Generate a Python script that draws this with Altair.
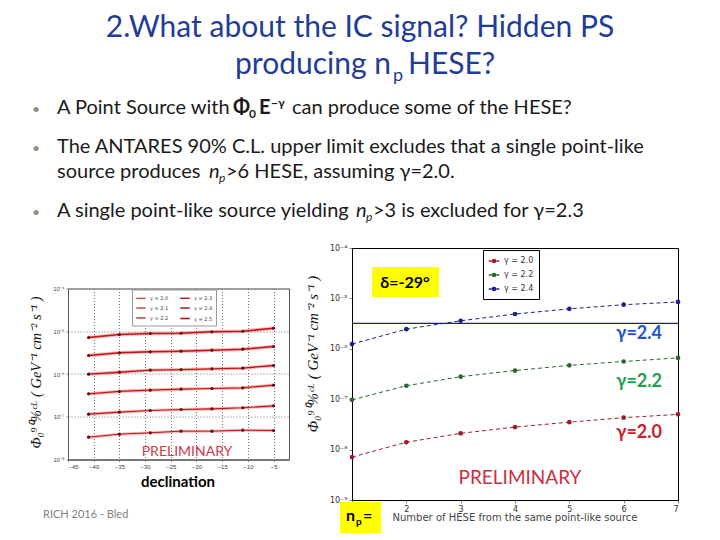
import math
import altair as alt
import pandas as pd

# ---------------- data ----------------
# right panel: 90% CL flux upper limit vs number of HESE (delta = -29 deg)
np_counts = [1, 2, 3, 4, 5, 6, 7]
ul_gamma20 = [7.1e-9, 1.4e-8, 2.1e-8, 2.8e-8, 3.5e-8, 4.3e-8, 5.0e-8]
ul_gamma22 = [9.7e-8, 1.85e-7, 2.8e-7, 3.7e-7, 4.7e-7, 5.6e-7, 6.6e-7]
ul_gamma24 = [1.24e-6, 2.45e-6, 3.6e-6, 4.9e-6, 6.2e-6, 7.5e-6, 8.5e-6]
right_gammas = ["γ = 2.0", "γ = 2.2", "γ = 2.4"]
antares_limit = 3.2e-6
right_yticks = [1e-9, 1e-8, 1e-7, 1e-6, 1e-5, 1e-4]
right_xticks = [1, 2, 3, 4, 5, 6, 7]

# left panel: 90% CL flux upper limit vs declination
declinations = [-41, -35, -29, -23, -17, -11, -5]
decl_g20 = [3.33e-8, 3.92e-8, 4.21e-8, 4.6e-8, 4.6e-8, 4.85e-8, 4.77e-8]
decl_g21 = [1.15e-7, 1.28e-7, 1.40e-7, 1.48e-7, 1.53e-7, 1.62e-7, 1.80e-7]
decl_g22 = [3.44e-7, 3.90e-7, 4.19e-7, 4.42e-7, 4.58e-7, 4.75e-7, 5.48e-7]
decl_g23 = [9.9e-7, 1.10e-6, 1.23e-6, 1.27e-6, 1.32e-6, 1.37e-6, 1.58e-6]
decl_g24 = [2.71e-6, 3.13e-6, 3.30e-6, 3.42e-6, 3.61e-6, 3.81e-6, 4.40e-6]
decl_g25 = [7.15e-6, 8.4e-6, 8.85e-6, 9.0e-6, 9.7e-6, 1.0e-5, 1.18e-5]
left_gammas = ["γ = 2.0", "γ = 2.1", "γ = 2.2", "γ = 2.3", "γ = 2.4", "γ = 2.5"]
left_yticks = [1e-8, 1e-7, 1e-6, 1e-5, 1e-4]
left_xticks = [-45, -40, -35, -30, -25, -20, -15, -10, -5]

# slide texts
title_line1 = "2.What about the IC  signal? Hidden PS"
footer = "RICH 2016 - Bled"
ytitle = "Φ₀⁹⁰%ᶜᴸ  ( GeV⁻¹ cm⁻² s⁻¹ )"

# ---------------- styles ----------------
BLUE_T = "#1F3C96"
TXT = "#1a1a1a"
SANS = "Lato"
right_colors = ["#9e1c2e", "#2e662e", "#1e1e8c"]
left_widths = [1.0, 1.6, 2.2, 3.0, 3.8, 4.6]

SUP = {"-": "⁻", "0": "⁰", "1": "¹", "2": "²", "3": "³", "4": "⁴",
       "5": "⁵", "6": "⁶", "7": "⁷", "8": "⁸", "9": "⁹"}


def pow_label_expr(ticks):
    expr = "''"
    for t in ticks:
        e = int(round(math.log10(t)))
        s = "10" + "".join(SUP[c] for c in str(e))
        expr = f"(abs(log(datum.value)/LN10 - ({e})) < 0.01) ? '{s}' : ({expr})"
    return expr


def txt(s, x, y, size, color=TXT, align="left", weight="normal", style="normal",
        font=SANS, angle=0, baseline="alphabetic"):
    return alt.Chart(pd.DataFrame({"t": [s]})).mark_text(
        align=align, baseline=baseline, fontSize=size, color=color,
        fontWeight=weight, fontStyle=style, font=font, angle=angle
    ).encode(x=alt.value(x), y=alt.value(y), text="t:N")


def box(x1, x2, y1, y2, color="#FFFF00"):
    return alt.Chart(pd.DataFrame({"a": [0]})).mark_rect(color=color).encode(
        x=alt.value(x1), x2=alt.value(x2), y=alt.value(y1), y2=alt.value(y2))


def spacer(w, h):
    return alt.Chart(pd.DataFrame({"t": [""]})).mark_text().encode(
        x=alt.value(0), y=alt.value(0), text="t:N").properties(width=w, height=h)


# ---------------- top: title + bullets ----------------
BS = 20
top_layers = [
    txt(title_line1, 352, 29, 30, BLUE_T, align="center"),
    txt("producing n", 383, 66, 30, BLUE_T, align="right"),
    txt("p", 385, 73, 18, BLUE_T),
    txt("HESE?", 400, 66, 30, BLUE_T),
    # bullet 1
    txt("•", 28, 106, 14, "#8c8c8c", align="center"),
    txt("A Point Source with", 49, 106, BS),
    txt("Φ", 225, 106, 20, TXT, weight="bold"),
    txt("0", 241, 110, 12, TXT, weight="bold"),
    txt("E", 251, 106, BS, TXT, weight="bold"),
    txt("−γ", 263, 99, 12, TXT, weight="bold"),
    txt("can produce some of the HESE?", 284, 106, BS),
    # bullet 2
    txt("•", 28, 145, 14, "#8c8c8c", align="center"),
    txt("The ANTARES 90% C.L. upper limit excludes that a single point-like", 49, 145, BS),
    txt("source produces", 49, 170, BS),
    txt("n", 201, 170, BS, style="italic"),
    txt("p", 211, 174, 12, style="italic"),
    txt(">6 HESE, assuming γ=2.0.", 218, 170, BS),
    # bullet 3
    txt("•", 28, 209, 14, "#8c8c8c", align="center"),
    txt("A single point-like source yielding", 49, 209, BS),
    txt("n", 348, 209, BS, style="italic"),
    txt("p", 358, 213, 12, style="italic"),
    txt(">3 is excluded for γ=2.3", 365, 209, BS),
    # footer
    txt(footer, 35, 507, 11, "#7f7f7f", baseline="middle"),
]
top = alt.layer(*top_layers).properties(width=704, height=240)

# ---------------- left chart ----------------
left_series = [decl_g20, decl_g21, decl_g22, decl_g23, decl_g24, decl_g25]
left_df = pd.DataFrame({
    "decl": declinations * len(left_series),
    "flux": [v for s in left_series for v in s],
    "gamma": [g for g in left_gammas for _ in declinations],
})
lx = alt.X("decl:Q", scale=alt.Scale(domain=[-45, -2], nice=False),
           axis=alt.Axis(values=left_xticks, title=None, labelFontSize=6, tickSize=2,
                         labelPadding=2, labelColor="#444",
                         labelExpr="replace(datum.label, '-', '−')",
                         grid=True, gridDash=[1, 2], gridColor="#666", gridOpacity=0.9,
                         domainColor="#555"))
ly = alt.Y("flux:Q", scale=alt.Scale(type="log", domain=[1e-8, 1e-4], nice=False),
           axis=alt.Axis(values=left_yticks, title=None, labelFontSize=6, tickSize=2,
                         labelPadding=2, labelColor="#444",
                         labelExpr=pow_label_expr(left_yticks),
                         grid=True, gridDash=[1, 2], gridColor="#666", gridOpacity=0.9,
                         domainColor="#555"))
left_glow = alt.Chart(left_df).mark_line(color="#e83030", opacity=0.35).encode(
    x=lx, y=ly,
    strokeWidth=alt.StrokeWidth("gamma:O", scale=alt.Scale(domain=left_gammas,
                                range=[w + 2 for w in left_widths]), legend=None))
left_lines = alt.Chart(left_df).mark_line(color="#c41616").encode(
    x=lx, y=ly,
    strokeWidth=alt.StrokeWidth(
        "gamma:O", scale=alt.Scale(domain=left_gammas, range=left_widths),
        legend=alt.Legend(orient="none", legendX=64, legendY=1, columns=2, title=None,
                          labelFontSize=5, labelFont="DejaVu Sans", labelColor="#444",
                          symbolType="stroke", symbolStrokeColor="#b01414", symbolSize=90,
                          strokeColor="#999", fillColor="white", padding=3,
                          rowPadding=1, columnPadding=8, labelOffset=3)))
left_pts = alt.Chart(left_df).mark_point(filled=True, size=10, color="#5a1010",
                                         opacity=1).encode(x=lx, y=ly)
left_chart = alt.layer(
    left_glow, left_lines, left_pts,
    txt("PRELIMINARY", 119, 163, 14, "#d03a4a", align="center", baseline="middle"),
    txt("declination", 110, 193, 15, "#000000", align="center", weight="bold",
        baseline="middle"),
    txt(ytitle, -31, 84, 14.5, "#111", align="center", baseline="middle",
        font="Liberation Serif", style="italic", angle=270),
).resolve_scale(strokeWidth="independent").properties(
    width=221, height=171, view=alt.ViewBackground(stroke="#555", strokeWidth=1))

# ---------------- right chart ----------------
right_series = [ul_gamma20, ul_gamma22, ul_gamma24]
right_df = pd.DataFrame({
    "np": np_counts * len(right_series),
    "flux": [v for s in right_series for v in s],
    "gamma": [g for g in right_gammas for _ in np_counts],
})
rx = alt.X("np:Q", scale=alt.Scale(domain=[1, 7], nice=False),
           axis=alt.Axis(values=right_xticks, title=None, labelFontSize=8, tickSize=3,
                         labelPadding=2, labelColor="#333", grid=False, domainColor="#000",
                         labelFont="DejaVu Sans",
                         labelExpr="datum.value == 1 ? '' : datum.label"))
ry = alt.Y("flux:Q", scale=alt.Scale(type="log", domain=[1e-9, 1e-4], nice=False),
           axis=alt.Axis(values=right_yticks, title=None, labelFontSize=8, tickSize=3,
                         labelPadding=2, labelColor="#333", grid=False, domainColor="#000",
                         labelFont="DejaVu Sans", labelExpr=pow_label_expr(right_yticks)))
rcolor = alt.Color("gamma:N", scale=alt.Scale(domain=right_gammas, range=right_colors),
                   legend=alt.Legend(orient="none", legendX=131, legendY=2, title=None,
                                     labelFontSize=8, labelFont="DejaVu Sans",
                                     labelColor="#333",
                                     symbolType="M-1,0H-0.45M0.45,0H1M-0.3,0a0.3,0.3 0 1,0 0.6,0a0.3,0.3 0 1,0 -0.6,0",
                                     symbolSize=110, symbolStrokeWidth=1.5,
                                     strokeColor="#000", fillColor="white", padding=5,
                                     rowPadding=3))
r_lines = alt.Chart(right_df).mark_line(strokeDash=[4, 3], strokeWidth=1).encode(
    x=rx, y=ry, color=rcolor)
r_pts = alt.Chart(right_df).mark_point(filled=True, size=22, opacity=1).encode(
    x=rx, y=ry, color=alt.Color("gamma:N", scale=alt.Scale(domain=right_gammas,
                                                           range=right_colors), legend=None))
r_rule = alt.Chart(pd.DataFrame({"lim": [antares_limit]})).mark_rule(
    color="#1e1e8c", strokeWidth=1.2).encode(y=alt.Y("lim:Q"))
right_chart = alt.layer(
    r_rule, r_lines, r_pts,
    box(20, 87, 19, 49),
    txt("δ=-29°", 53, 35, 16, "#000", align="center", weight="bold", baseline="middle"),
    txt("γ=2.4", 310, 86, 18, "#2155c8", align="right", weight="bold", baseline="middle"),
    txt("γ=2.2", 310, 134, 18, "#22a050", align="right", weight="bold", baseline="middle"),
    txt("γ=2.0", 310, 185, 18, "#c8202c", align="right", weight="bold", baseline="middle"),
    txt("PRELIMINARY", 168, 230, 19, "#c83040", align="center", baseline="middle"),
    txt("Number of HESE from the same point-like source", 163, 270, 10, "#444",
        align="center", baseline="middle", font="DejaVu Sans"),
    box(-12, 29, 254, 285),
    txt("n", -6, 273, 16, "#000", weight="bold"),
    txt("p", 4, 277, 10, "#000", weight="bold"),
    txt("=", 11, 273, 16, "#000", weight="bold"),
    txt(ytitle, -39, 106, 15, "#111", align="center", baseline="middle",
        font="Liberation Serif", style="italic", angle=270),
).properties(width=326, height=252,
             view=alt.ViewBackground(stroke="#000", strokeWidth=1))

# ---------------- layout ----------------
bottom = alt.hconcat(spacer(60, 10), left_chart, spacer(63, 10), right_chart,
                     spacing=0, bounds="flush", center=True).resolve_scale(
    color="independent", strokeWidth="independent").resolve_legend(
    color="independent", strokeWidth="independent")
chart = alt.vconcat(top, bottom, spacing=0, bounds="flush").resolve_scale(
    color="independent", strokeWidth="independent").resolve_legend(
    color="independent", strokeWidth="independent").properties(
    padding=0, background="white"
).configure_view(stroke=None)

chart.save("out.html", embed_options={"renderer": "svg", "actions": False})
